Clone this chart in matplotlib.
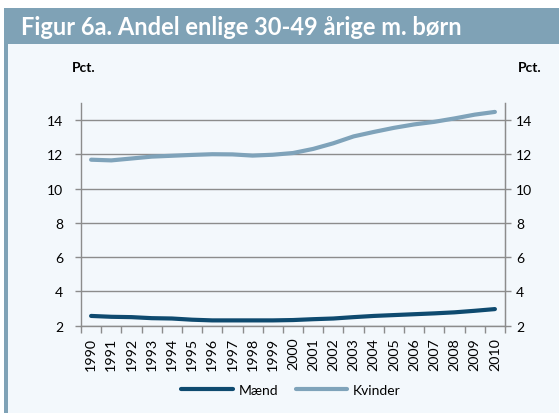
import matplotlib
matplotlib.use("Agg")
import matplotlib.pyplot as plt
from matplotlib.patches import Rectangle

plt.rcParams['font.family'] = ['Lato', 'DejaVu Sans']

years = [str(y) for y in range(1990, 2011)]
maend = [2.57, 2.52, 2.50, 2.44, 2.42, 2.35, 2.31, 2.31, 2.31, 2.31, 2.33,
         2.38, 2.42, 2.50, 2.57, 2.62, 2.67, 2.72, 2.78, 2.87, 2.97]
kvinder = [11.69, 11.65, 11.76, 11.87, 11.92, 11.97, 12.01, 12.0, 11.93, 11.98, 12.08,
           12.32, 12.65, 13.05, 13.31, 13.55, 13.75, 13.9, 14.1, 14.32, 14.48]
yticks = [2, 4, 6, 8, 10, 12, 14]

W, H = 559, 414
fig = plt.figure(figsize=(W / 100, H / 100), dpi=100)
fig.patch.set_facecolor('white')

banner = '#7fa2b6'
bg = '#f3f8fc'
grey = '#8c8c8c'

# panel background
fig.patches.append(Rectangle((8 / W, 0), 1 - 8 / W, (H - 45) / H, transform=fig.transFigure,
                             facecolor=bg, edgecolor='none', zorder=-10))
# left strip
fig.patches.append(Rectangle((4 / W, 0), 4 / W, (H - 45) / H, transform=fig.transFigure,
                             facecolor=banner, edgecolor='none', zorder=-10))
# banner
fig.patches.append(Rectangle((4 / W, (H - 45) / H), 1 - 4 / W, 36 / H, transform=fig.transFigure,
                             facecolor=banner, edgecolor='none', zorder=-10))
fig.text(21 / W, 1 - 27.5 / H, 'Figur 6a. Andel enlige 30-49 årige m. børn', color='white',
         fontsize=17, fontweight='bold', ha='left', va='center')

left, right, top, bottom = 81, 505, 104, 326.7
ax = fig.add_axes([left / W, 1 - bottom / H, (right - left) / W, (bottom - top) / H])
ax.set_facecolor('none')

x = list(range(len(years)))
l1, = ax.plot(x, maend, color='#0e4a6f', lw=3.0, solid_capstyle='round', zorder=3)
l2, = ax.plot(x, kvinder, color='#7fa3ba', lw=3.0, solid_capstyle='round', zorder=3)

ax.set_xlim(-0.5, len(years) - 0.5)
ax.set_ylim(2, 15)
ax.set_yticks(yticks)
ax.set_yticklabels([str(v) for v in yticks])
for v in yticks:
    ax.axhline(v, color=grey, lw=1.0, zorder=1)

ax.set_xticks([i - 0.5 for i in range(len(years) + 1)])
ax.set_xticklabels([])
ax.set_xticks(x, minor=True)
ax.set_xticklabels(years, minor=True, rotation=90, fontsize=10.3)
ax.tick_params(axis='x', which='major', length=5, color=grey, width=1)
ax.tick_params(axis='x', which='minor', length=0, pad=8)
ax.tick_params(axis='y', length=4, color=grey, width=1, labelsize=10, pad=9)

ax.spines['top'].set_visible(False)
for s in ['left', 'right', 'bottom']:
    ax.spines[s].set_color(grey)
    ax.spines[s].set_linewidth(1.0)

ax2 = ax.twinx()
ax2.set_ylim(2, 15)
ax2.set_yticks(yticks)
ax2.set_yticklabels([str(v) for v in yticks])
ax2.tick_params(axis='y', length=4, color=grey, width=1, labelsize=10, pad=4)
for s in ['top', 'left', 'bottom']:
    ax2.spines[s].set_visible(False)
ax2.spines['right'].set_color(grey)

fig.text(84 / W, 1 - 68 / H, 'Pct.', fontsize=10, fontweight='bold', ha='center', va='center')
fig.text(530 / W, 1 - 68 / H, 'Pct.', fontsize=10, fontweight='bold', ha='center', va='center')

fig.legend([l1, l2], ['Mænd', 'Kvinder'], loc='center', bbox_to_anchor=(291 / W, 1 - 391 / H),
           ncol=2, frameon=False, fontsize=10, handlelength=3.7, handletextpad=0.4,
           columnspacing=1.3)

fig.savefig('out.png', dpi=100)
